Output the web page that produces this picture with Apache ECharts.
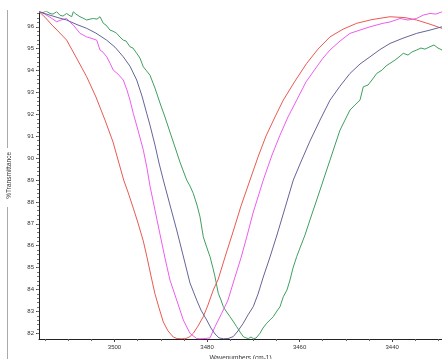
<!DOCTYPE html>
<html><head><meta charset="utf-8">
<script src="https://cdn.jsdelivr.net/npm/echarts@6/dist/echarts.min.js"></script>
<style>html,body{margin:0;padding:0;background:#fff}#c{width:442px;height:359px}</style>
</head><body><div id="c"></div>
<script>
const xTickValues = [3440, 3460, 3480, 3500];
const xMinorTicks = [3430,3435,3445,3450,3455,3465,3470,3475,3485,3490,3495,3505,3510,3515];
const yTickValues = [82,83,84,85,86,87,88,89,90,91,92,93,94,95,96];

const redWn = [3516.31,3515.02,3513.50,3512.00,3510.33,3508.32,3506.01,3504.00,3502.05,3500.32,3498.01,3497.08,3495.94,3494.92,3493.78,3492.98,3492.11,3491.25,3490.38,3489.45,3488.44,3487.29,3486.49,3485.48,3484.55,3483.69,3482.97,3481.96,3480.81,3479.80,3478.65,3477.57,3476.12,3474.39,3472.67,3470.72,3468.99,3467.26,3465.32,3463.53,3461.00,3458.47,3456.03,3453.43,3450.63,3447.66,3444.36,3440.47,3437.23,3434.70,3431.83,3429.23];
const redT = [96.69,96.44,96.08,95.76,95.39,94.62,93.72,92.79,91.74,90.74,89.00,88.45,87.72,87.04,86.22,85.48,84.62,83.80,83.16,82.52,82.11,81.83,81.76,81.75,81.76,81.85,82.00,82.33,82.76,83.29,83.98,84.48,85.48,86.63,87.81,89.00,90.05,91.01,91.88,92.65,93.52,94.33,94.98,95.54,95.89,96.16,96.33,96.46,96.42,96.31,96.12,95.93];

const magWn = [3516.31,3515.23,3513.94,3512.49,3511.56,3510.33,3509.61,3508.90,3507.45,3506.01,3505.08,3503.84,3503.13,3502.48,3501.68,3500.97,3500.26,3499.24,3498.10,3497.30,3496.65,3495.94,3494.92,3493.77,3492.98,3492.33,3491.25,3490.17,3489.09,3488.01,3486.56,3485.13,3483.69,3482.24,3481.53,3480.45,3479.36,3478.28,3476.84,3475.47,3473.96,3472.67,3471.37,3470.07,3467.85,3465.97,3464.24,3462.51,3460.63,3458.62,3456.31,3454.95,3453.43,3451.27,3449.11,3446.95,3444.79,3441.98,3440.47,3438.31,3436.58,3434.70,3433.34,3431.83,3430.53,3429.23];
const magT = [96.69,96.60,96.44,96.23,96.31,96.38,96.21,96.08,95.70,95.54,95.48,95.39,94.94,94.84,94.63,94.34,94.02,93.84,93.57,93.11,92.65,92.05,91.28,90.37,89.55,88.73,87.63,86.53,85.44,84.43,83.52,82.61,82.00,81.76,81.75,81.76,81.79,82.30,82.91,83.52,84.57,85.44,86.44,87.49,89.00,90.14,91.05,91.88,92.65,93.48,94.17,94.57,94.94,95.35,95.70,95.85,96.00,96.16,96.22,96.38,96.31,96.38,96.53,96.61,96.58,96.69];

const purWn = [3516.31,3513.94,3512.21,3510.33,3508.32,3506.01,3504.00,3501.69,3499.89,3498.10,3496.65,3495.20,3494.06,3493.04,3492.33,3491.25,3490.38,3489.45,3488.01,3486.56,3485.20,3483.69,3482.24,3481.31,3480.08,3479.15,3478.28,3477.42,3476.49,3475.47,3474.33,3473.31,3472.17,3471.15,3470.01,3468.99,3467.85,3466.40,3464.89,3463.16,3461.36,3459.92,3457.76,3455.59,3453.43,3451.27,3449.11,3446.95,3444.79,3442.63,3440.47,3437.66,3434.70,3431.83,3429.23];
const purT = [96.69,96.53,96.42,96.31,96.12,95.93,95.71,95.39,95.07,94.63,94.20,93.57,92.84,92.05,91.51,90.60,89.78,89.00,87.86,86.72,85.58,84.30,83.52,83.06,82.61,82.24,81.97,81.79,81.75,81.76,81.85,82.11,82.46,82.84,83.22,83.79,84.57,85.48,86.49,87.72,89.00,89.73,90.78,91.74,92.65,93.29,93.87,94.30,94.63,94.96,95.24,95.48,95.70,95.85,96.00];

const grnWn = [3516.31,3515.45,3514.80,3513.94,3513.29,3512.49,3511.78,3511.13,3510.33,3509.83,3509.25,3508.90,3508.32,3507.45,3506.81,3506.01,3505.29,3504.58,3503.78,3503.13,3502.42,3501.84,3500.97,3500.32,3499.52,3498.81,3498.10,3497.51,3496.65,3496.00,3495.20,3494.49,3493.77,3493.19,3492.33,3491.25,3490.17,3489.09,3488.01,3486.93,3485.85,3484.40,3483.69,3482.97,3482.17,3481.52,3480.81,3480.23,3479.36,3478.72,3478.28,3477.57,3476.99,3476.49,3475.91,3475.04,3474.39,3473.59,3472.88,3472.17,3471.59,3471.09,3470.50,3470.01,3469.42,3468.56,3467.91,3467.11,3466.40,3465.69,3464.89,3464.24,3463.52,3462.73,3462.08,3461.43,3460.63,3459.92,3458.83,3457.76,3456.67,3455.59,3454.51,3453.43,3452.35,3451.27,3450.19,3449.11,3448.03,3446.95,3446.24,3445.22,3444.36,3443.34,3442.20,3441.33,3440.47,3439.39,3438.53,3437.59,3436.58,3435.72,3434.70,3433.77,3432.91,3431.83,3430.96,3430.10,3429.23];
const grnT = [96.69,96.65,96.72,96.61,96.58,96.69,96.53,96.49,96.61,96.53,96.46,96.69,96.58,96.46,96.40,96.31,96.35,96.38,96.35,96.46,96.16,96.08,95.85,95.80,95.70,95.53,95.39,95.35,95.09,95.03,94.79,94.57,94.17,94.02,93.79,93.20,92.52,91.88,91.19,90.51,89.82,89.00,88.73,88.39,87.86,87.32,86.41,86.03,85.50,84.98,84.58,83.83,83.52,83.22,83.02,82.76,82.56,82.30,82.06,81.85,81.79,81.76,81.83,81.76,81.78,82.00,82.24,82.46,82.61,82.76,83.02,83.21,83.67,83.98,84.43,84.98,85.50,85.90,86.49,87.18,87.86,88.54,89.23,89.91,90.60,91.28,91.74,92.20,92.43,92.65,93.26,93.34,93.57,93.87,94.02,94.21,94.33,94.48,94.62,94.79,94.71,94.85,94.94,95.03,94.98,95.09,95.17,95.03,94.94];

const X_MIN = 3429.23, X_MAX = 3516.31, Y_MIN = 81.74, Y_MAX = 96.69;
const yMinorTicks = [];
for (let v = 82; v <= 96.6 + 1e-9; v += 0.2) yMinorTicks.push(Math.round(v * 10) / 10);

const pair = (a, b) => a.map((x, i) => [x, b[i]]);
const FONT = 'Liberation Sans';
const plain = v => String(v);
const mkSeries = (name, wn, t, color) => ({
  name, type: 'line', data: pair(wn, t), showSymbol: false, symbol: 'none',
  lineStyle: { width: 1, color }, clip: true, silent: true
});

const chart = echarts.init(document.getElementById('c'), null, { renderer: 'canvas' });
chart.setOption({
  animation: false,
  backgroundColor: '#fff',
  grid: { left: 39, right: 0, top: 11.7, bottom: 20, containLabel: false, outerBoundsMode: 'none' },
  xAxis: [{
    type: 'value', inverse: true, min: X_MIN, max: X_MAX, position: 'bottom',
    name: 'Wavenumbers (cm-1)', nameLocation: 'middle', nameGap: 11,
    nameTextStyle: { fontSize: 6.5, color: '#333', fontFamily: FONT },
    axisLine: { show: true, lineStyle: { color: '#222', width: 1 } },
    axisTick: { show: true, customValues: xTickValues, length: 3, inside: false, lineStyle: { color: '#444' } },
    axisLabel: { show: true, customValues: xTickValues, formatter: plain, fontSize: 6, color: '#333', margin: 5, fontFamily: FONT },
    splitLine: { show: false }
  }, {
    type: 'value', inverse: true, min: X_MIN, max: X_MAX, position: 'bottom',
    axisLine: { show: false },
    axisTick: { show: true, customValues: xMinorTicks, length: 2, lineStyle: { color: '#666' } },
    axisLabel: { show: false },
    splitLine: { show: false }
  }],
  yAxis: [{
    type: 'value', min: Y_MIN, max: Y_MAX, position: 'left',
    name: '%Transmittance', nameLocation: 'middle', nameGap: 26, nameRotate: 90,
    nameTextStyle: { fontSize: 6.5, color: '#333', fontFamily: FONT },
    axisLine: { show: true, lineStyle: { color: '#222', width: 1 } },
    axisTick: { show: true, customValues: yTickValues, length: 3, lineStyle: { color: '#444' } },
    axisLabel: { show: true, customValues: yTickValues, formatter: plain, fontSize: 6, color: '#333', margin: 5, fontFamily: FONT },
    splitLine: { show: false }
  }, {
    type: 'value', min: Y_MIN, max: Y_MAX, position: 'left',
    axisLine: { show: false },
    axisTick: { show: true, customValues: yMinorTicks, length: 2, lineStyle: { color: '#777' } },
    axisLabel: { show: false },
    splitLine: { show: false }
  }],
  graphic: [
    { type: 'line', shape: { x1: 7.5, y1: 10, x2: 7.5, y2: 148 }, style: { stroke: '#aaa', lineWidth: 1 } },
    { type: 'line', shape: { x1: 7.5, y1: 207, x2: 7.5, y2: 359 }, style: { stroke: '#aaa', lineWidth: 1 } }
  ],
  series: [
    mkSeries('green', grnWn, grnT, '#3f9f5f'),
    mkSeries('red', redWn, redT, '#e85a52'),
    mkSeries('magenta', magWn, magT, '#ee5cee'),
    mkSeries('purple', purWn, purT, '#64649a')
  ]
});
</script>
</body></html>
